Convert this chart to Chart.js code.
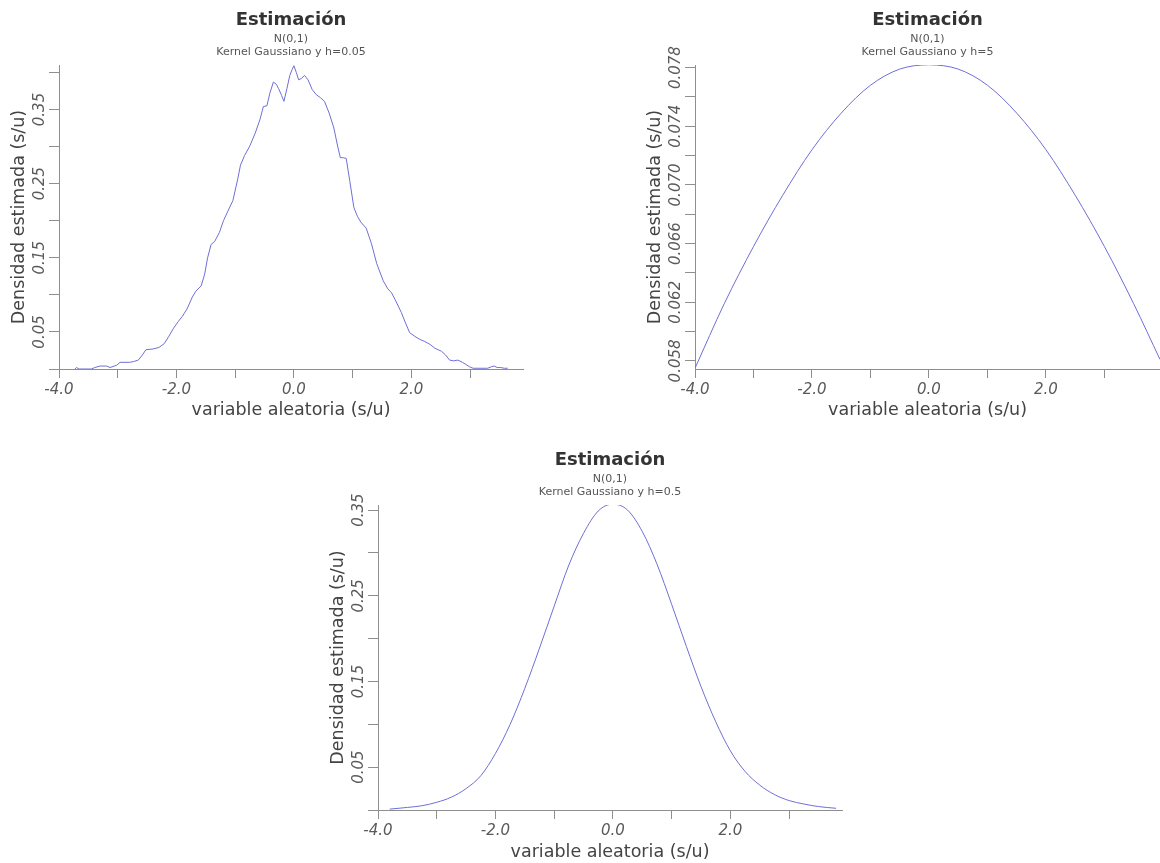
<!DOCTYPE html>
<html><head><meta charset="utf-8">
<script src="https://cdn.jsdelivr.net/npm/chart.js@4/dist/chart.umd.min.js"></script>
<style>
html,body{margin:0;padding:0;background:#fff;}
body{width:1160px;height:863px;position:relative;overflow:hidden;}
canvas{position:absolute;}
</style></head><body>
<canvas id="c1" width="540" height="421" style="left:0px;top:0px"></canvas>
<canvas id="c2" width="524" height="421" style="left:636px;top:0px"></canvas>
<canvas id="c3" width="541" height="423" style="left:319px;top:440px"></canvas>
<script>
// ---- data ----
const TITLE = 'Estimación';
const SUB_DIST = 'N(0,1)';
const SUBTITLES = ['Kernel Gaussiano y h=0.05', 'Kernel Gaussiano y h=5', 'Kernel Gaussiano y h=0.5'];
const X_TITLE = 'variable aleatoria (s/u)';
const Y_TITLE = 'Densidad estimada (s/u)';

// Chart 1: h = 0.05
const x1 = [-3.73,-3.70,-3.66,-3.45,-3.39,-3.30,-3.19,-3.13,-3.02,-2.96,-2.80,-2.73,-2.65,-2.58,-2.52,-2.40,-2.30,-2.21,-2.13,-2.05,
  -1.97,-1.90,-1.82,-1.73,-1.67,-1.58,-1.52,-1.47,-1.41,-1.35,-1.27,-1.20,-1.13,-1.04,-0.96,-0.91,-0.84,-0.75,-0.66,-0.58,
  -0.52,-0.46,-0.41,-0.35,-0.30,-0.26,-0.21,-0.17,-0.12,-0.07,-0.03,0.00,0.04,0.08,0.13,0.18,0.24,0.31,0.38,0.45,
  0.52,0.60,0.68,0.74,0.79,0.84,0.89,0.95,1.02,1.08,1.14,1.23,1.32,1.41,1.52,1.60,1.66,1.72,1.83,1.90,
  1.97,2.06,2.14,2.23,2.32,2.40,2.51,2.58,2.65,2.72,2.79,2.87,2.93,2.99,3.05,3.30,3.36,3.41,3.46,3.52,3.58,3.64];
const y1 = [0.000,0.002,0.000,0.000,0.002,0.004,0.004,0.002,0.005,0.009,0.009,0.010,0.012,0.019,0.026,0.027,0.029,0.034,0.044,0.055,
  0.064,0.071,0.081,0.097,0.105,0.112,0.128,0.150,0.168,0.172,0.184,0.200,0.212,0.227,0.255,0.275,0.288,0.301,0.318,0.336,
  0.354,0.355,0.372,0.387,0.384,0.378,0.369,0.361,0.378,0.396,0.404,0.409,0.400,0.390,0.392,0.396,0.390,0.377,0.370,0.366,
  0.361,0.345,0.325,0.302,0.285,0.285,0.284,0.254,0.218,0.206,0.198,0.190,0.169,0.142,0.119,0.108,0.103,0.094,0.076,0.062,
  0.049,0.044,0.040,0.037,0.033,0.028,0.024,0.019,0.012,0.011,0.012,0.009,0.006,0.003,0.001,0.001,0.003,0.004,0.002,0.002,0.001,0.001];

// Chart 2: h = 5
const x2 = [-4.0,-3.5,-3.0,-2.5,-2.0,-1.5,-1.0,-0.5,0.0,0.5,1.0,1.5,2.0,2.5,3.0,3.5,3.95];
const y2 = [0.0575,0.0619,0.0658,0.0693,0.0724,0.0749,0.0768,0.0779,0.0782,0.0779,0.0768,0.0749,0.0724,0.0693,0.0658,0.0619,0.0581];

// Chart 3: h = 0.5
const x3 = [-3.80,-3.50,-3.25,-3.00,-2.75,-2.50,-2.25,-2.00,-1.75,-1.50,-1.25,-1.00,-0.75,-0.50,-0.25,0.00,
  0.25,0.50,0.75,1.00,1.25,1.50,1.75,2.00,2.25,2.50,2.75,3.00,3.25,3.50,3.80];
const y3 = [0.001,0.003,0.005,0.009,0.015,0.025,0.040,0.066,0.100,0.142,0.189,0.238,0.286,0.323,0.349,0.357,
  0.350,0.325,0.287,0.240,0.191,0.144,0.103,0.069,0.045,0.029,0.018,0.011,0.007,0.004,0.002];

// axis ranges / ticks
const X_MIN = -4, X_STEP = 1;
const X_MAX = [3.9, 3.95, 3.9];
const Y_MIN = [0, 0.05745, 0];
const Y_MAX = [0.41, 0.07818, 0.356];
const Y_STEP = [0.05, 0.002, 0.05];

// ---- styling ----
const FONT = '"DejaVu Sans", Verdana, sans-serif';
const LINE_COLOR = '#6e6ed6';
const AXIS_COLOR = '#8e8e8e';
const TICK_COLOR = '#5a5a5a';

const rotatedYLabels = {
  id: 'rotatedYLabels',
  afterDraw(chart) {
    const s = chart.scales.y, ctx = chart.ctx;
    ctx.save();
    ctx.font = 'italic 15px ' + FONT;
    ctx.fillStyle = TICK_COLOR;
    ctx.textAlign = 'center';
    ctx.textBaseline = 'middle';
    s.ticks.forEach(t => {
      if (!t.label) return;
      const py = s.getPixelForValue(t.value);
      ctx.save();
      ctx.translate(s.right - 19, py);
      ctx.rotate(-Math.PI / 2);
      ctx.fillText(t.label, 0, 0);
      ctx.restore();
    });
    ctx.restore();
  }
};

function makeChart(id, xs, ys, idx, yLabel, padRight, xAxisH, smooth) {
  const pts = xs.map((x, i) => ({x: x, y: ys[i]}));
  return new Chart(document.getElementById(id), {
    type: 'line',
    data: { datasets: [{
      data: pts, borderColor: LINE_COLOR, borderWidth: 1, pointRadius: 0,
      fill: false, tension: smooth ? 0.4 : 0, cubicInterpolationMode: smooth ? 'monotone' : 'default'
    }]},
    options: {
      responsive: false, animation: false, devicePixelRatio: 1,
      layout: { padding: { left: 0, right: padRight, top: 0, bottom: 0 } },
      plugins: {
        legend: { display: false }, tooltip: { enabled: false },
        title: { display: true, text: TITLE, fullSize: false, color: '#333',
          font: { family: FONT, size: 18, weight: 'bold' }, padding: { top: 10, bottom: 0 } },
        subtitle: { display: true, text: [SUB_DIST, SUBTITLES[idx]], fullSize: false, color: '#555',
          font: { family: FONT, size: 11 }, padding: { top: 1, bottom: 6 } }
      },
      scales: {
        x: {
          type: 'linear', min: X_MIN, max: X_MAX[idx],
          afterFit: s => { s.height = xAxisH; },
          ticks: { stepSize: X_STEP, includeBounds: false, autoSkip: false, maxRotation: 0,
            color: TICK_COLOR, padding: 3, font: { family: FONT, size: 15, style: 'italic' },
            callback: v => (Math.round(v) % 2 === 0 ? Number(v).toFixed(1) : '') },
          grid: { drawOnChartArea: false, drawTicks: true, tickLength: 9, tickColor: AXIS_COLOR, color: AXIS_COLOR },
          border: { display: true, color: AXIS_COLOR, width: 1 },
          title: { display: true, text: X_TITLE, color: '#444', font: { family: FONT, size: 17.5 }, padding: { top: 0, bottom: 0 } }
        },
        y: {
          type: 'linear', min: Y_MIN[idx], max: Y_MAX[idx],
          afterFit: s => { s.width = 59; },
          ticks: { display: false, stepSize: Y_STEP[idx], includeBounds: false, autoSkip: false, callback: yLabel },
          grid: { drawOnChartArea: false, drawTicks: true, tickLength: 10, tickColor: AXIS_COLOR, color: AXIS_COLOR },
          border: { display: true, color: AXIS_COLOR, width: 1 },
          title: { display: true, text: Y_TITLE, color: '#444', font: { family: FONT, size: 17.5 }, padding: { top: 9, bottom: 0 } }
        }
      }
    },
    plugins: [rotatedYLabels]
  });
}

const lab2 = v => (Math.round(v * 100) % 10 === 5 ? Number(v).toFixed(2) : '');
const lab3 = v => (Math.round(v * 1000) % 4 === 2 ? Number(v).toFixed(3) : '');

makeChart('c1', x1, y1, 0, lab2, 17, 52, false);
makeChart('c2', x2, y2, 1, lab3, 0, 52, true);
makeChart('c3', x3, y3, 2, lab2, 18, 53, true);
</script>
</body></html>
